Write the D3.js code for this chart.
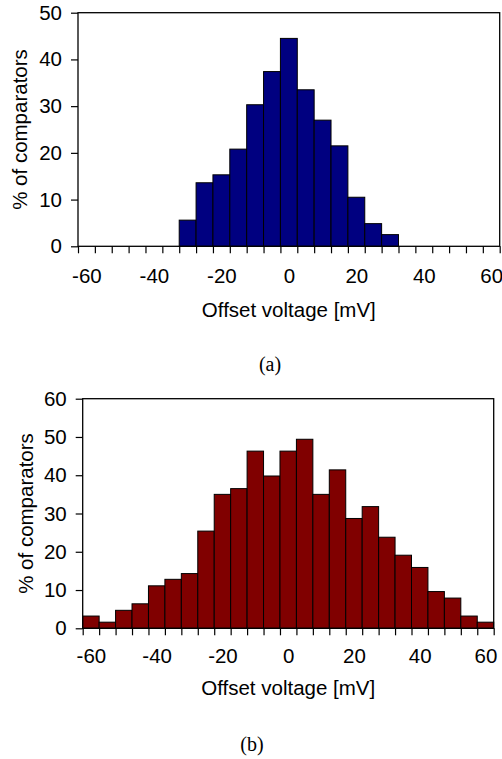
<!DOCTYPE html>
<html>
<head>
<meta charset="utf-8">
<script src="https://cdn.jsdelivr.net/npm/d3@7"></script>
<style>
  body { margin: 0; background: #fff; }
  svg text { font-family: Arial, "Liberation Sans", sans-serif; fill: #000; }
  .caption { font-family: "Times New Roman", "Liberation Serif", serif; }
</style>
</head>
<body>
<div id="plot"></div>
<script>
// bin centres in mV (5 mV wide bins)
var binCenters = [-60, -55, -50, -45, -40, -35, -30, -25, -20, -15, -10, -5, 0,
                  5, 10, 15, 20, 25, 30, 35, 40, 45, 50, 55, 60];
var xTickLabels = [-60, -40, -20, 0, 20, 40, 60];

// (a) percentages per bin
var valuesA = [0, 0, 0, 0, 0, 0, 5.6, 13.6, 15.3, 20.8, 30.3, 37.4, 44.5,
               33.5, 27.0, 21.5, 10.5, 4.85, 2.5, 0, 0, 0, 0, 0, 0];
var yTicksA = [0, 10, 20, 30, 40, 50];

// (b) percentages per bin
var valuesB = [3.2, 1.6, 4.7, 6.4, 11.1, 12.8, 14.3, 25.4, 35.0, 36.5, 46.3, 39.8, 46.3,
               49.4, 35.0, 41.4, 28.7, 31.8, 23.8, 19.1, 15.9, 9.6, 7.9, 3.2, 1.6];
var yTicksB = [0, 10, 20, 30, 40, 50, 60];

var svg = d3.select("#plot")
  .append("svg")
    .attr("width", 502)
    .attr("height", 759);

// plain hyphen for negatives, like the original
var fmt = function (d) { return String(d); };

function drawPanel(opt) {
  var width = opt.width, height = opt.height;
  var g = svg.append("g")
    .attr("transform", "translate(" + opt.left + "," + opt.top + ")");

  var x = d3.scaleLinear().domain([-62.5, 62.5]).range([0, width]);
  var y = d3.scaleLinear().domain([0, opt.ymax]).range([height, 0]);

  // bars
  g.append("g")
    .selectAll("rect")
    .data(opt.values.map(function (v, i) { return {c: binCenters[i], v: v}; })
                    .filter(function (d) { return d.v > 0; }))
    .enter()
    .append("rect")
      .attr("x", function (d) { return x(d.c - 2.5); })
      .attr("width", function (d) { return x(d.c + 2.5) - x(d.c - 2.5); })
      .attr("y", function (d) { return y(d.v); })
      .attr("height", function (d) { return height - y(d.v); })
      .style("fill", opt.color)
      .style("stroke", "#000")
      .style("stroke-width", 1);

  // frame
  g.append("rect")
    .attr("width", width)
    .attr("height", height)
    .style("fill", "none")
    .style("stroke", "#000")
    .style("stroke-width", 1.3);

  // y axis
  var yAxis = g.append("g")
    .call(d3.axisLeft(y).tickValues(opt.yTicks).tickSize(7).tickPadding(9).tickFormat(fmt));
  yAxis.select(".domain").remove();
  yAxis.selectAll(".tick line").attr("stroke", "#000").attr("stroke-width", 1.2);
  yAxis.selectAll("text").style("font-size", "20.5px");

  // x tick marks at bin edges
  var edges = binCenters.map(function (c) { return c - 2.5; }).concat([62.5]);
  var xMarks = g.append("g")
    .attr("transform", "translate(0," + height + ")")
    .call(d3.axisBottom(x).tickValues(edges).tickSize(7).tickFormat(""));
  xMarks.select(".domain").remove();
  xMarks.selectAll(".tick line").attr("stroke", "#000").attr("stroke-width", 1.2);

  // x labels at bin centres
  var xLabels = g.append("g")
    .attr("transform", "translate(0," + height + ")")
    .call(d3.axisBottom(x).tickValues(xTickLabels).tickSize(0).tickPadding(opt.xPad).tickFormat(fmt));
  xLabels.select(".domain").remove();
  xLabels.selectAll("text").style("font-size", "20.5px");

  // axis titles
  g.append("text")
    .attr("text-anchor", "middle")
    .attr("x", width / 2)
    .attr("y", height + opt.xTitleDy)
    .style("font-size", "20.5px")
    .text("Offset voltage [mV]");

  g.append("text")
    .attr("text-anchor", "middle")
    .attr("transform", "rotate(-90)")
    .attr("x", -height / 2)
    .attr("y", opt.yTitleX)
    .style("font-size", "20.5px")
    .text("% of comparators");

  svg.append("text")
    .attr("class", "caption")
    .attr("text-anchor", "middle")
    .attr("x", opt.capX)
    .attr("y", opt.capY)
    .style("font-size", "20px")
    .text(opt.caption);
}

drawPanel({left: 78, top: 12.7, width: 421.7, height: 233.6, ymax: 50,
           values: valuesA, yTicks: yTicksA, color: "#000080",
           xPad: 22, xTitleDy: 71, yTitleX: -51, caption: "(a)", capX: 270, capY: 371});

drawPanel({left: 82.7, top: 398.7, width: 411, height: 229.6, ymax: 60,
           values: valuesB, yTicks: yTicksB, color: "#800000",
           xPad: 20, xTitleDy: 66.5, yTitleX: -50, caption: "(b)", capX: 252, capY: 751});
</script>
</body>
</html>
